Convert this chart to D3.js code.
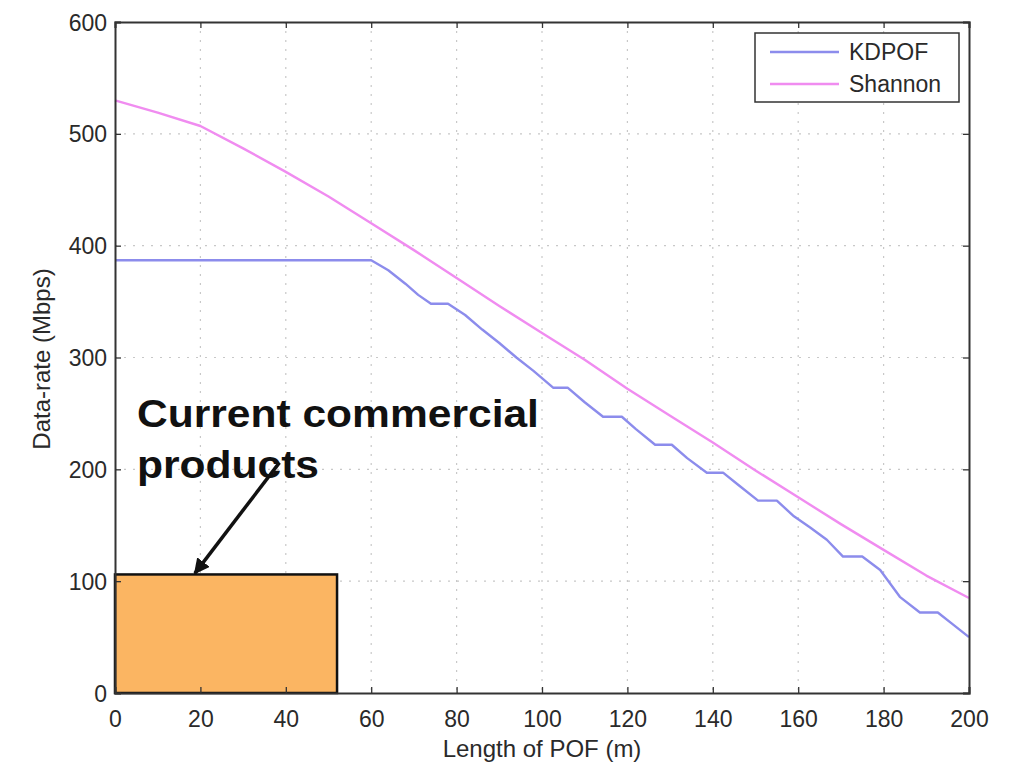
<!DOCTYPE html>
<html><head><meta charset="utf-8">
<script src="https://cdn.jsdelivr.net/npm/d3@7"></script>
<style>
html,body{margin:0;padding:0;background:#fff;}
svg{display:block;}
text{font-family:"Liberation Sans",Arial,Helvetica,sans-serif;}
</style></head>
<body>
<svg id="chart" width="1009" height="762"></svg>
<script>
// ---- data ----
const xTicks = [0,20,40,60,80,100,120,140,160,180,200];
const yTicks = [0,100,200,300,400,500,600];
const seriesNames = ["KDPOF","Shannon"];
const kdpofX = [0,60,64,68,71,74,78,82,86,90,94,98,102.6,106,110,114.3,118.7,122,126.5,130.4,134,138.6,142.4,146,150.6,155,159,162.8,166.7,170.5,175,179.2,183.8,188.5,192.7,196,200];
const kdpofY = [387,387,378,366,356,348,348,338,325,313,300,288,273,273,260,247,247,236,222,222,210,197,197,186,172,172,158,148,137,122,122,110,86,72,72,62,50];
const shannonX = [0,10,20,30,40,50,60,70,80,90,100,110,120,130,140,150,160,170,180,190,200];
const shannonY = [530,519,507,487,466,444,420,396,371,346,322,298,272,248,224,199,175,151,128,105,85];
const productBox = {x0:0, x1:52, y0:0, y1:106};
const annotationLines = ["Current commercial","products"];
const arrowFrom = [38.5,206], arrowTo = [18.7,107];

// ---- layout ----
const L=115, R=969, T=22, B=693;
const svg = d3.select("#chart");
const x = d3.scaleLinear().domain([0,200]).range([L,R]);
const y = d3.scaleLinear().domain([0,600]).range([B,T]);

// grid
const grid = svg.append("g");
grid.selectAll("line.gx").data(xTicks.slice(1,-1)).enter().append("line")
  .attr("x1",d=>x(d)).attr("x2",d=>x(d)).attr("y1",T).attr("y2",B)
  .attr("stroke","#c8c8c8").attr("stroke-width",1.2).attr("stroke-dasharray","2,7");
grid.selectAll("line.gy").data(yTicks.slice(1,-1)).enter().append("line")
  .attr("y1",d=>y(d)).attr("y2",d=>y(d)).attr("x1",L).attr("x2",R)
  .attr("stroke","#c8c8c8").attr("stroke-width",1.2).attr("stroke-dasharray","2,7");

// product box
svg.append("rect")
  .attr("x",x(productBox.x0)).attr("y",y(productBox.y1))
  .attr("width",x(productBox.x1)-x(productBox.x0))
  .attr("height",y(productBox.y0)-y(productBox.y1))
  .attr("fill","#fbb562").attr("stroke","#111").attr("stroke-width",2.5);

// lines
const line = d3.line().x(d=>x(d[0])).y(d=>y(d[1]));
const kd = kdpofX.map((v,i)=>[v,kdpofY[i]]);
const sh = shannonX.map((v,i)=>[v,shannonY[i]]);
const colors = ["#8c8cec","#f08cf0"];
svg.append("path").datum(sh).attr("d",line).attr("fill","none")
  .attr("stroke",colors[1]).attr("stroke-width",2.4).attr("stroke-linejoin","round");
svg.append("path").datum(kd).attr("d",line).attr("fill","none")
  .attr("stroke",colors[0]).attr("stroke-width",2.4).attr("stroke-linejoin","round");

// axes (box with inward ticks)
const axisColor="#333";
const xb = svg.append("g").attr("transform",`translate(0,${B})`)
  .call(d3.axisBottom(x).tickValues(xTicks).tickSize(-6).tickPadding(18).tickFormat(d3.format("d")));
const xt = svg.append("g").attr("transform",`translate(0,${T})`)
  .call(d3.axisTop(x).tickValues(xTicks).tickSize(-6).tickFormat(""));
const yl = svg.append("g").attr("transform",`translate(${L},0)`)
  .call(d3.axisLeft(y).tickValues(yTicks).tickSize(-6).tickPadding(8).tickFormat(d3.format("d")));
const yr = svg.append("g").attr("transform",`translate(${R},0)`)
  .call(d3.axisRight(y).tickValues(yTicks).tickSize(-6).tickFormat(""));
[xb,xt,yl,yr].forEach(g=>{
  g.select(".domain").attr("stroke",axisColor).attr("stroke-width",2);
  g.selectAll(".tick line").attr("stroke",axisColor).attr("stroke-width",1.3);
  g.selectAll(".tick text").attr("fill","#2a2a2a").style("font-size","23px")
   .style("font-family","'Liberation Sans',Arial,sans-serif");
});
yl.selectAll(".tick text").attr("dy","0.35em");

// axis labels
svg.append("text").attr("x",542).attr("y",757).attr("text-anchor","middle")
  .attr("fill","#2a2a2a").style("font-size","24px").text("Length of POF (m)");
svg.append("text").attr("transform",`translate(50,359) rotate(-90)`)
  .attr("text-anchor","middle").attr("fill","#2a2a2a").style("font-size","24px").text("Data-rate (Mbps)");

// legend
const lg = svg.append("g");
lg.append("rect").attr("x",755).attr("y",33).attr("width",204).attr("height",69)
  .attr("fill","#fff").attr("stroke","#333").attr("stroke-width",1.5);
seriesNames.forEach((n,i)=>{
  const yy = 52 + i*32;
  lg.append("line").attr("x1",770).attr("x2",839).attr("y1",yy).attr("y2",yy)
    .attr("stroke",colors[i]).attr("stroke-width",2.4);
  lg.append("text").attr("x",849).attr("y",yy).attr("dy","0.36em")
    .attr("fill","#2a2a2a").style("font-size","23px").text(n);
});

// annotation
svg.append("defs").append("marker").attr("id","ah").attr("viewBox","0 0 10 10")
  .attr("refX",9).attr("refY",5).attr("markerWidth",4.5).attr("markerHeight",4.5)
  .attr("orient","auto").append("path").attr("d","M0,0 L10,5 L0,10 Z").attr("fill","#111");
svg.append("line").attr("x1",x(arrowFrom[0])).attr("y1",y(arrowFrom[1]))
  .attr("x2",x(arrowTo[0])).attr("y2",y(arrowTo[1]))
  .attr("stroke","#111").attr("stroke-width",3.5).attr("marker-end","url(#ah)");
annotationLines.forEach((t,i)=>{
  svg.append("text").attr("transform",`translate(137,${427+i*51}) scale(1.12,1)`)
    .attr("fill","#111").style("font-size","38px").style("font-weight","bold").text(t);
});
</script>
</body></html>
